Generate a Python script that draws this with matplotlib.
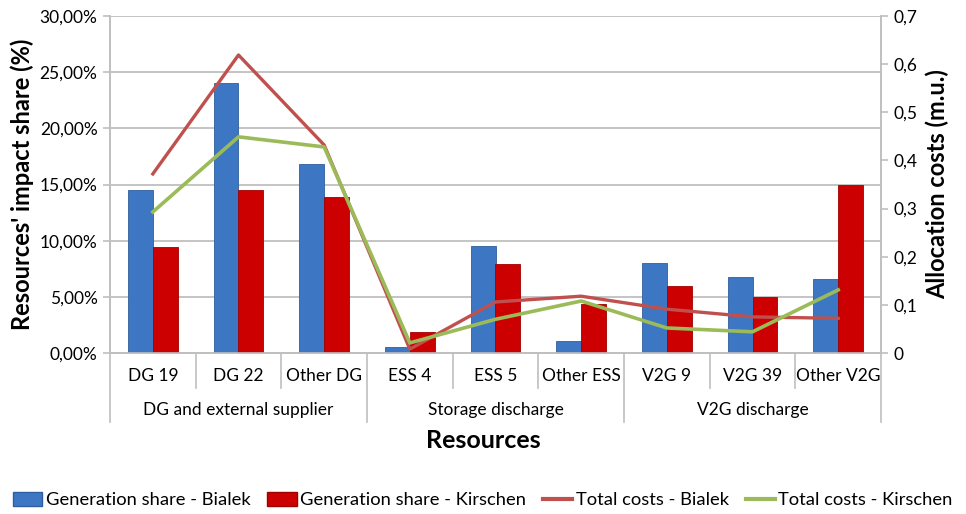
import numpy as np
import matplotlib.pyplot as plt
from matplotlib.patches import Patch
from matplotlib.lines import Line2D

plt.rcParams['font.family'] = ['Lato', 'DejaVu Sans']

# data
categories = ['DG 19', 'DG 22', 'Other DG', 'ESS 4', 'ESS 5', 'Other ESS',
              'V2G 9', 'V2G 39', 'Other V2G']
groups = ['DG and external supplier', 'Storage discharge', 'V2G discharge']
group_sizes = [3, 3, 3]

share_bialek = [14.5, 24.0, 16.8, 0.5, 9.5, 1.1, 8.0, 6.8, 6.6]
share_kirschen = [9.4, 14.5, 13.9, 1.9, 7.9, 4.4, 6.0, 5.0, 15.0]
cost_bialek = [0.372, 0.619, 0.432, 0.008, 0.106, 0.118, 0.091, 0.075, 0.072]
cost_kirschen = [0.293, 0.449, 0.428, 0.021, 0.070, 0.108, 0.052, 0.044, 0.131]

left_ticks = [0, 5, 10, 15, 20, 25, 30]
right_ticks = [0, 0.1, 0.2, 0.3, 0.4, 0.5, 0.6, 0.7]

blue = '#3D77C4'
red = '#CC0000'
line_red = '#C0504D'
line_green = '#9BBB59'
grid_c = '#BFBFBF'

fig = plt.figure(figsize=(9.66, 5.14), dpi=100)
ax = fig.add_axes([110/966, 1-353/514, 771/966, 337/514])
ax2 = ax.twinx()

x = np.arange(len(categories))
w = 0.29
ax.bar(x - w/2, share_bialek, w, color=blue, edgecolor='#2F5E9E', linewidth=0.6, zorder=3)
ax.bar(x + w/2, share_kirschen, w, color=red, edgecolor='#A00000', linewidth=0.6, zorder=3)

ax2.plot(x, cost_bialek, color=line_red, lw=2.4, zorder=4)
ax2.plot(x, cost_kirschen, color=line_green, lw=2.6, zorder=5)

ax.set_xlim(-0.5, len(categories) - 0.5)
ax.set_ylim(0, 30)
ax2.set_ylim(0, 0.7)

ax.set_yticks(left_ticks)
ax.set_yticklabels(['%d,00%%' % t for t in left_ticks], fontsize=12.5)
ax2.set_yticks(right_ticks)
ax2.set_yticklabels(['0' if t == 0 else ('%.1f' % t).replace('.', ',') for t in right_ticks],
                    fontsize=12.5)
ax.yaxis.grid(True, color=grid_c, lw=1.3, zorder=0)
ax.set_axisbelow(True)
ax.set_xticks([])

for a in (ax, ax2):
    for s in a.spines.values():
        s.set_color(grid_c)
        s.set_linewidth(1.2)
    a.spines['top'].set_visible(False)
    a.tick_params(axis='y', color=grid_c, length=5, width=1.2, pad=4)

ax.set_ylabel("Resources' impact share (%)", fontsize=17, fontweight='bold', labelpad=4)
ax2.set_ylabel('Allocation costs (m.u.)', fontsize=17, fontweight='bold', labelpad=6)

# multi-level category axis
tr = ax.get_xaxis_transform()
px = 1 / 337
for i, c in enumerate(categories):
    ax.text(i, -23 * px, c, transform=tr, ha='center', va='center', fontsize=12.5)
for i in range(len(categories) + 1):
    pos = i - 0.5
    if i % 3 == 0:
        y_end = -69 * px
    else:
        y_end = -35 * px
    ax.add_line(Line2D([pos, pos], [0, y_end], transform=tr, color=grid_c,
                       lw=1.2, clip_on=False))
start = 0
for g, n in zip(groups, group_sizes):
    ax.text(start + (n - 1) / 2, -57 * px, g, transform=tr, ha='center', va='center',
            fontsize=12.5)
    start += n

fig.text(0.5, 1 - 440/514, 'Resources', ha='center', va='center', fontsize=18,
         fontweight='bold')

handles = [Patch(facecolor=blue, edgecolor='#2F5E9E'),
           Patch(facecolor=red, edgecolor='#A00000'),
           Line2D([0], [0], color=line_red, lw=3),
           Line2D([0], [0], color=line_green, lw=3)]
labels = ['Generation share - Bialek', 'Generation share - Kirschen',
          'Total costs - Bialek', 'Total costs - Kirschen']
fig.legend(handles, labels, loc='center', bbox_to_anchor=(0.5, 1 - 500/514), ncol=4,
           frameon=False, fontsize=13.2, handlelength=1.6, handleheight=0.8,
           handletextpad=0.2, columnspacing=0.9, borderpad=0.1)

fig.savefig('out.png', dpi=100)
